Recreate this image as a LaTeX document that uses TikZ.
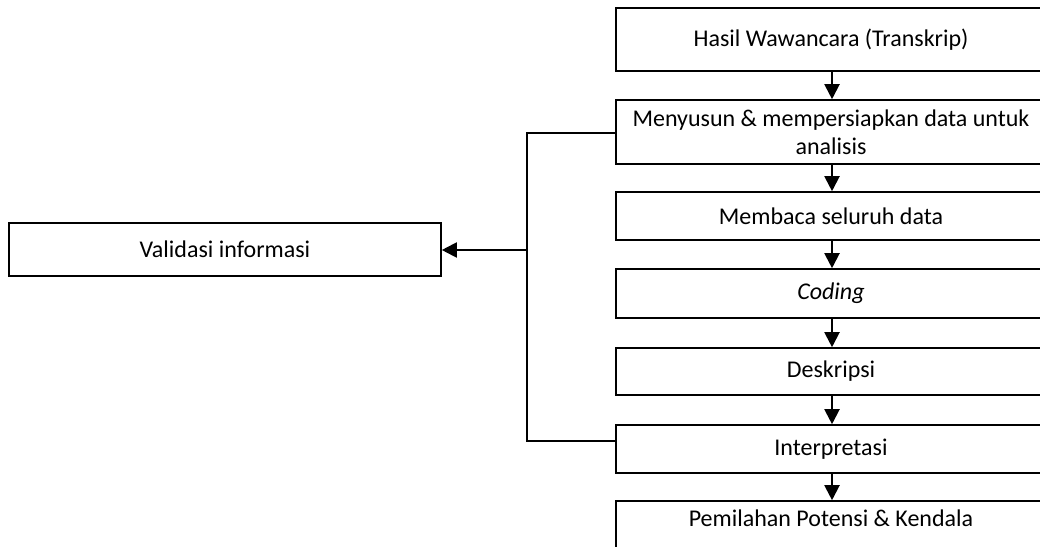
\documentclass[tikz,border=0pt]{standalone}
\usepackage{fontspec}
\setmainfont{Carlito}
\usetikzlibrary{arrows.meta}
\begin{document}
\begin{tikzpicture}[x=1pt,y=-1pt,
  lbl/.style={font=\fontsize{24}{28}\selectfont},
  stepbox/.style={draw, line width=1.6pt, minimum width=430pt, inner sep=0pt, align=center, lbl},
  sidebox/.style={draw, line width=1.6pt, minimum width=432pt, minimum height=53pt, inner sep=0pt, lbl},
  flow/.style={line width=2pt, -{Triangle[length=15pt,width=15pt]}},
  link/.style={line width=2pt}]
\useasboundingbox (0,0) rectangle (1040,546);
\clip (0,0) rectangle (1040,546);
% main column of steps
\node[stepbox, minimum height=63pt] (s1) at (831,39.5) {Hasil Wawancara (Transkrip)};
\node[stepbox, minimum height=64pt] (s2) at (831,132) {Menyusun \& mempersiapkan data untuk\\analisis};
\node[stepbox, minimum height=48pt] (s3) at (831,216) {Membaca seluruh data};
\node[stepbox, minimum height=49pt] (s4) at (831,293.5) {\textit{Coding}};
\node[stepbox, minimum height=47pt] (s5) at (831,371.5) {Deskripsi};
\node[stepbox, minimum height=48pt] (s6) at (831,449) {Interpretasi};
\node[stepbox, minimum height=80pt] (s7) at (831,541) {};
\node[lbl, anchor=base] (s7t) at (831,526) {Pemilahan Potensi \& Kendala};
% side box
\node[sidebox] (val) at (225,249.5) {Validasi informasi};
% arrows down the column
\draw[flow] (s1.south -| 832,0) -- (s2.north -| 832,0);
\draw[flow] (s2.south -| 832,0) -- (s3.north -| 832,0);
\draw[flow] (s3.south -| 832,0) -- (s4.north -| 832,0);
\draw[flow] (s4.south -| 832,0) -- (s5.north -| 832,0);
\draw[flow] (s5.south -| 832,0) -- (s6.north -| 832,0);
\draw[flow] (s6.south -| 832,0) -- (s7.north -| 832,0);
% feedback bus to validation
\coordinate (busT) at (527,133);
\coordinate (busB) at (527,441);
\coordinate (busM) at (527,250);
\draw[link] (s2.west |- busT) -- (busT) -- (busB) -- (s6.west |- busB);
\draw[flow] (busM) -- (val.east |- busM);
\end{tikzpicture}
\end{document}
